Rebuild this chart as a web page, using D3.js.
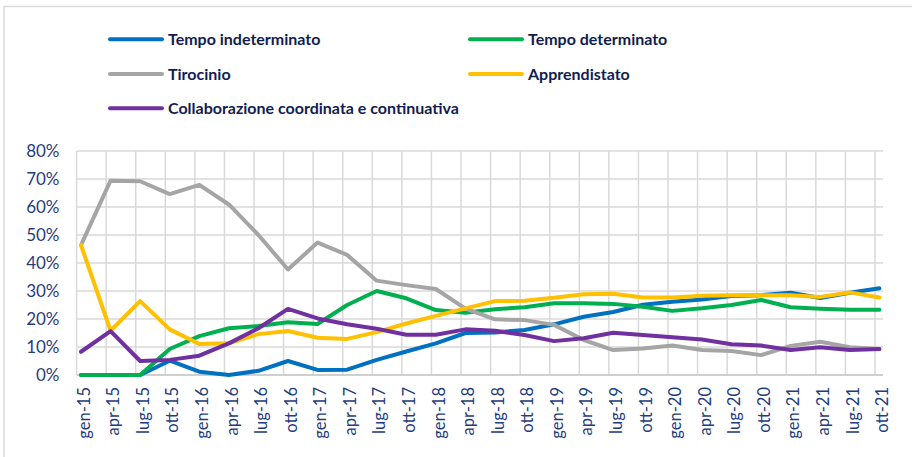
<!DOCTYPE html>
<html lang="it">
<head>
<meta charset="UTF-8">
<title>Contratti</title>
<script src="https://d3js.org/d3.v7.min.js"></script>
<style>
  body { margin: 0; background: #fff; }
  svg { display: block; }
  .ytick { font: 17px Lato, sans-serif; fill: #1f3d7d; }
  .xtick { font: 16.5px Lato, sans-serif; fill: #1f3d7d; }
  .legend text { font: bold 16px Lato, sans-serif; fill: #111d52; }
</style>
</head>
<body>
<svg width="912" height="457"></svg>
<script>
const months = ["gen", "apr", "lug", "ott"];
const years = ["15", "16", "17", "18", "19", "20", "21"];
const periods = years.flatMap(y => months.map(m => `${m}-${y}`));

const names = ["Tempo indeterminato", "Tempo determinato", "Tirocinio", "Apprendistato", "Collaborazione coordinata e continuativa"];
const colors = ["#0070c0", "#00b050", "#a5a5a5", "#ffc000", "#7030a0"];

// valori in %
const indeterminato = [0, 0, 0, 5.1, 1.2, 0, 1.5, 5.0, 1.8, 1.9, 5.4, 8.4, 11.3, 15.0, 15.2, 16.1, 18.1, 20.8, 22.5, 25.1, 26.2, 27.0, 28.2, 28.5, 29.4, 27.5, 29.4, 31.0];
const determinato = [0, 0, 0, 9.3, 13.9, 16.7, 17.5, 18.8, 18.2, 25.0, 30.0, 27.4, 23.2, 22.2, 23.5, 24.2, 25.6, 25.6, 25.4, 24.4, 22.9, 23.8, 25.0, 26.8, 24.2, 23.7, 23.3, 23.3];
const tirocinio = [46.4, 69.4, 69.2, 64.6, 67.9, 60.9, 50.0, 37.7, 47.3, 42.9, 33.7, 32.1, 30.7, 23.7, 19.9, 19.6, 17.9, 12.5, 8.9, 9.5, 10.5, 8.9, 8.6, 7.1, 10.4, 11.9, 9.9, 9.3];
const apprendistato = [46.4, 15.8, 26.4, 16.3, 11.1, 11.3, 14.6, 15.7, 13.3, 12.9, 15.3, 18.4, 21.1, 23.8, 26.4, 26.5, 27.6, 28.8, 29.0, 27.7, 27.7, 28.3, 28.5, 28.5, 28.5, 27.9, 29.5, 27.7];
const collaborazione = [8.3, 15.7, 5.0, 5.4, 6.9, 11.3, 16.7, 23.6, 20.2, 18.1, 16.5, 14.4, 14.4, 16.3, 15.8, 14.3, 12.1, 13.1, 15.1, 14.3, 13.5, 12.7, 11.0, 10.5, 8.9, 9.9, 8.9, 9.3];
const series = [indeterminato, determinato, tirocinio, apprendistato, collaborazione];

const yTicks = [0, 10, 20, 30, 40, 50, 60, 70, 80];

const svg = d3.select("svg");

// cornice
svg.append("path")
    .attr("d", "M4,457V6.5H912")
    .attr("fill", "none")
    .attr("stroke", "#d9d9d9")
    .attr("stroke-width", 1.5);

const x = d3.scalePoint().domain(periods).range([81, 879.4]);
const y = d3.scaleLinear().domain([0, 80]).range([375, 151]);
const left = 76.7, right = 883;
const gridShift = -4.4;

// griglia
svg.append("g")
    .selectAll("line")
    .data(yTicks)
    .join("line")
    .attr("x1", left).attr("x2", right)
    .attr("y1", d => y(d)).attr("y2", d => y(d))
    .attr("stroke", "#d9d9d9")
    .attr("stroke-width", 1.5);

svg.append("g")
    .selectAll("line")
    .data(periods)
    .join("line")
    .attr("x1", d => x(d) + gridShift).attr("x2", d => x(d) + gridShift)
    .attr("y1", y(80)).attr("y2", y(0))
    .attr("stroke", "#d9d9d9")
    .attr("stroke-width", 1.5);

svg.append("line")
    .attr("x1", left).attr("x2", right)
    .attr("y1", y(0)).attr("y2", y(0))
    .attr("stroke", "#cfcfcf")
    .attr("stroke-width", 2);

// etichette assi
svg.append("g")
    .selectAll("text")
    .data(yTicks)
    .join("text")
    .attr("class", "ytick")
    .attr("x", 59.5)
    .attr("y", d => y(d))
    .attr("dy", "0.35em")
    .attr("text-anchor", "end")
    .text(d => d + "%");

svg.append("g")
    .selectAll("text")
    .data(periods)
    .join("text")
    .attr("class", "xtick")
    .attr("transform", d => `translate(${x(d) + 3},387) rotate(-90)`)
    .attr("dy", "0.35em")
    .attr("text-anchor", "end")
    .text(d => d);

// linee
const line = d3.line()
    .x((d, i) => x(periods[i]))
    .y(d => y(d));

svg.append("g")
    .selectAll("path")
    .data(series)
    .join("path")
    .attr("d", line)
    .attr("fill", "none")
    .attr("stroke", (d, i) => colors[i])
    .attr("stroke-width", 4)
    .attr("stroke-linejoin", "round")
    .attr("stroke-linecap", "round");

// legenda
const legendPos = [[110, 39.3], [470, 39.3], [110, 74], [470, 74], [110, 108.3]];
const legend = svg.append("g").attr("class", "legend")
    .selectAll("g")
    .data(names)
    .join("g")
    .attr("transform", (d, i) => `translate(${legendPos[i][0]},${legendPos[i][1]})`);

legend.append("line")
    .attr("x1", 0).attr("x2", 52)
    .attr("stroke", (d, i) => colors[i])
    .attr("stroke-width", 4)
    .attr("stroke-linecap", "round");

legend.append("text")
    .attr("x", 58)
    .attr("dy", "0.35em")
    .text(d => d);
</script>
</body>
</html>
